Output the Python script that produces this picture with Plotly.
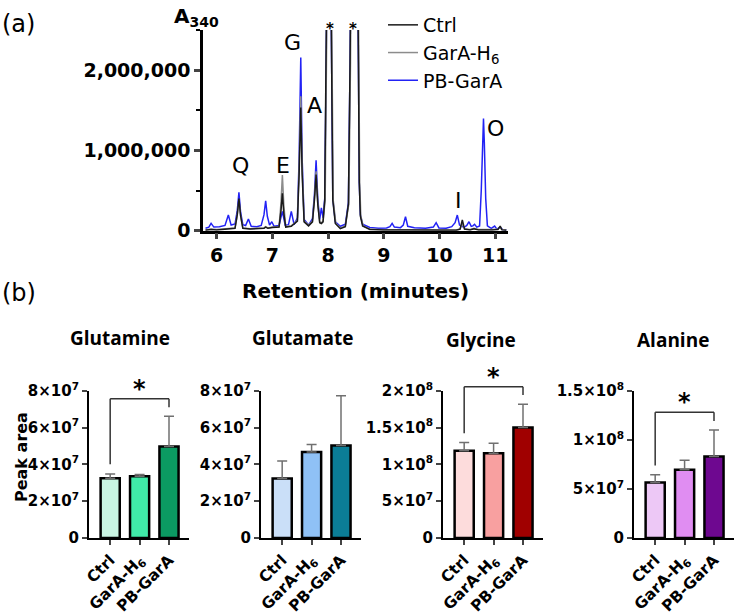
import plotly.graph_objects as go

W, H = 735, 614

# ---------------- (a) chromatogram: (retention min, A340 signal) ----------------
pb_points = [
    (5.80, 30e3), (5.86, 45e3), (5.90, 92e3), (5.95, 45e3), (6.05, 50e3), (6.15, 65e3), (6.21, 195e3),
    (6.26, 70e3), (6.33, 85e3), (6.37, 250e3), (6.40, 478e3), (6.43, 230e3), (6.47, 75e3), (6.52, 65e3),
    (6.57, 145e3), (6.62, 55e3), (6.72, 50e3), (6.80, 65e3), (6.85, 200e3), (6.88, 373e3), (6.91, 180e3),
    (6.95, 70e3), (6.99, 112e3), (7.03, 55e3), (7.12, 65e3), (7.18, 241e3), (7.23, 70e3), (7.29, 75e3),
    (7.34, 241e3), (7.39, 75e3), (7.45, 160e3), (7.48, 900e3), (7.51, 2157e3), (7.535, 900e3), (7.57, 140e3),
    (7.65, 70e3), (7.72, 150e3), (7.755, 450e3), (7.785, 879e3), (7.815, 400e3), (7.85, 140e3), (7.88, 286e3),
    (7.91, 160e3), (7.94, 400e3), (7.965, 2.0e6), (8.015, 6.0e6), (8.065, 2.0e6), (8.085, 400e3), (8.13, 110e3),
    (8.22, 55e3), (8.31, 80e3), (8.365, 350e3), (8.395, 2.1e6), (8.47, 9.0e6), (8.545, 2.1e6), (8.56, 600e3),
    (8.58, 200e3), (8.62, 80e3), (8.75, 40e3), (8.90, 32e3), (9.05, 35e3), (9.11, 50e3), (9.15, 92e3),
    (9.19, 45e3), (9.30, 38e3), (9.35, 70e3), (9.39, 174e3), (9.43, 55e3), (9.55, 38e3), (9.75, 32e3),
    (9.89, 45e3), (9.94, 100e3), (9.99, 35e3), (10.12, 32e3), (10.22, 50e3), (10.28, 100e3), (10.32, 195e3),
    (10.36, 70e3), (10.44, 40e3), (10.49, 65e3), (10.53, 112e3), (10.57, 55e3), (10.60, 60e3), (10.63, 80e3),
    (10.67, 45e3), (10.72, 60e3), (10.75, 500e3), (10.775, 1100e3), (10.79, 1398e3), (10.805, 1100e3),
    (10.83, 400e3), (10.86, 60e3), (10.93, 30e3), (10.99, 58e3), (11.03, 20e3), (11.09, 45e3), (11.13, 15e3),
    (11.20, 10e3),
]
ctrl_points = [
    (5.80, 5e3), (5.90, 15e3), (6.00, 10e3), (6.20, 20e3), (6.33, 30e3), (6.37, 200e3), (6.40, 400e3),
    (6.43, 190e3), (6.47, 30e3), (6.60, 20e3), (6.85, 30e3), (6.88, 45e3), (6.92, 30e3), (7.00, 40e3),
    (7.12, 45e3), (7.155, 250e3), (7.18, 465e3), (7.205, 220e3), (7.24, 45e3), (7.34, 55e3), (7.45, 120e3),
    (7.48, 700e3), (7.51, 1535e3), (7.535, 700e3), (7.57, 110e3), (7.65, 60e3), (7.72, 110e3), (7.755, 380e3),
    (7.785, 700e3), (7.815, 330e3), (7.85, 100e3), (7.88, 90e3), (7.91, 110e3), (7.94, 380e3), (7.965, 2.0e6),
    (8.015, 6.0e6), (8.065, 2.0e6), (8.085, 380e3), (8.13, 90e3), (8.22, 25e3), (8.31, 50e3), (8.365, 330e3),
    (8.395, 2.1e6), (8.47, 9.0e6), (8.545, 2.1e6), (8.56, 600e3), (8.58, 180e3), (8.62, 60e3), (8.75, 15e3),
    (9.00, 8e3), (9.40, 8e3), (9.80, 5e3), (10.30, 5e3), (10.37, 20e3), (10.41, 133e3), (10.45, 20e3),
    (10.55, 10e3), (10.62, 25e3), (10.70, 10e3), (10.95, 10e3), (11.05, 15e3), (11.09, 58e3), (11.12, 10e3),
    (11.20, 5e3),
]
gara_points = [
    (5.80, 10e3), (5.90, 20e3), (6.00, 15e3), (6.20, 25e3), (6.33, 35e3), (6.37, 190e3), (6.40, 380e3),
    (6.43, 180e3), (6.47, 35e3), (6.60, 25e3), (6.85, 35e3), (6.88, 50e3), (6.92, 35e3), (7.00, 45e3),
    (7.12, 50e3), (7.155, 350e3), (7.18, 693e3), (7.205, 330e3), (7.24, 50e3), (7.34, 60e3), (7.45, 130e3),
    (7.48, 780e3), (7.51, 1675e3), (7.535, 780e3), (7.57, 120e3), (7.65, 70e3), (7.72, 120e3), (7.755, 400e3),
    (7.785, 740e3), (7.815, 350e3), (7.85, 110e3), (7.88, 100e3), (7.91, 120e3), (7.948, 380e3), (7.973, 2.0e6),
    (8.023, 6.0e6), (8.073, 2.0e6), (8.093, 380e3), (8.14, 90e3), (8.22, 35e3), (8.31, 60e3), (8.373, 330e3),
    (8.403, 2.1e6), (8.478, 9.0e6), (8.553, 2.1e6), (8.568, 600e3), (8.588, 180e3), (8.63, 60e3), (8.75, 20e3),
    (9.00, 12e3), (9.40, 12e3), (9.80, 10e3), (10.30, 10e3), (10.37, 20e3), (10.41, 90e3), (10.45, 20e3),
    (10.55, 15e3), (10.62, 30e3), (10.70, 15e3), (10.95, 15e3), (11.05, 20e3), (11.09, 40e3), (11.12, 15e3),
    (11.20, 10e3),
]
peak_labels = ["Q", "E", "G", "A", "*", "*", "I", "O"]
peak_label_t = [6.42, 7.19, 7.37, 7.76, 8.03, 8.45, 10.34, 11.0]
peak_label_v = [817e3, 817e3, 2347e3, 1563e3, 2490e3, 2490e3, 382e3, 1277e3]

# ---------------- (b) peak areas ----------------
groups = ["Ctrl", "GarA-H<sub>6</sub>", "PB-GarA"]
amino_acids = ["Glutamine", "Glutamate", "Glycine", "Alanine"]
gln_mean = [3.25e7, 3.35e7, 4.97e7]
gln_sd = [0.22e7, 0.10e7, 1.64e7]
glu_mean = [3.23e7, 4.67e7, 5.03e7]
glu_sd = [0.95e7, 0.41e7, 2.70e7]
gly_mean = [1.183e8, 1.150e8, 1.499e8]
gly_sd = [0.112e8, 0.137e8, 0.317e8]
ala_mean = [5.65e7, 6.94e7, 8.29e7]
ala_sd = [0.78e7, 0.99e7, 2.71e7]

gln_colors = ["#c9f5e3", "#40eaa8", "#0b9a62"]
glu_colors = ["#cadff8", "#8fc1f6", "#0b7d96"]
gly_colors = ["#fddcdc", "#f8a0a0", "#a00000"]
ala_colors = ["#edc8f6", "#e08df2", "#6e0890"]

y_ranges = [[0, 8e7], [0, 8e7], [0, 2e8], [0, 1.5e8]]
y_tickvals = [[0, 2e7, 4e7, 6e7, 8e7], [0, 2e7, 4e7, 6e7, 8e7],
              [0, 5e7, 1e8, 1.5e8, 2e8], [0, 5e7, 1e8, 1.5e8]]
y_ticktext = [["0", "2×10<sup>7</sup>", "4×10<sup>7</sup>", "6×10<sup>7</sup>", "8×10<sup>7</sup>"],
              ["0", "2×10<sup>7</sup>", "4×10<sup>7</sup>", "6×10<sup>7</sup>", "8×10<sup>7</sup>"],
              ["0", "5×10<sup>7</sup>", "1×10<sup>8</sup>", "1.5×10<sup>8</sup>", "2×10<sup>8</sup>"],
              ["0", "5×10<sup>7</sup>", "1×10<sup>8</sup>", "1.5×10<sup>8</sup>"]]

# significance brackets (Ctrl vs PB-GarA): top level, left leg end, right leg end
sig_top = [7.56e7, None, 2.054e8, 1.28e8]
sig_left = [4.0e7, None, 1.423e8, 7.38e7]
sig_right = [7.1e7, None, 1.942e8, 1.192e8]

# ---------------- layout geometry (pixels) ----------------
def px_x(p):
    return p / W

def px_y(p):
    return 1 - p / H

BOLD = "DejaVu Sans"
fig = go.Figure()

series = [
    ("PB-GarA", pb_points, "#2222f5", 3),
    ("GarA-H<sub>6</sub>", gara_points, "#8c8c8c", 2),
    ("Ctrl", ctrl_points, "#1a1a1a", 1),
]
for name, pts, col, rank in series:
    fig.add_trace(go.Scatter(
        x=[p[0] for p in pts], y=[p[1] for p in pts], mode="lines", name=name,
        line=dict(color=col, width=1.5), legendrank=rank, xaxis="x", yaxis="y",
    ))

fig.update_layout(
    xaxis=dict(domain=[px_x(203), px_x(508)], range=[5.755, 11.23], anchor="y", automargin=False,
               tickvals=[6, 7, 8, 9, 10, 11], ticks="outside", ticklen=6, tickwidth=2.5,
               showline=True, linecolor="black", linewidth=2.5, showgrid=False, zeroline=False,
               tickfont=dict(family=BOLD, size=19, color="black", weight="bold")),
    yaxis=dict(domain=[px_y(230.7), px_y(30)], range=[0, 2.5e6 * 1.0005], anchor="x", automargin=False,
               tickvals=[0, 1e6, 2e6], ticktext=["0", "1,000,000", "2,000,000"],
               ticks="outside", ticklen=6, tickwidth=2.5,
               minor=dict(tickvals=[5e5, 1.5e6, 2.5e6], ticks="outside", ticklen=4, tickwidth=2, tickcolor="black"),
               showline=True, linecolor="black", linewidth=2.5, showgrid=False, zeroline=False,
               tickfont=dict(family=BOLD, size=19, color="black", weight="bold")),
)

annotations = []
for lab, t, v in zip(peak_labels, peak_label_t, peak_label_v):
    star = lab == "*"
    annotations.append(dict(
        x=t, y=v, xref="x", yref="y", text=lab, showarrow=False, yshift=2 if star else 0,
        font=dict(family=BOLD if star else "DejaVu Sans", size=15 if star else 22, color="black",
                  weight="bold" if star else "normal"),
        xanchor="center", yanchor="middle"))

annotations += [
    dict(x=px_x(196), y=px_y(17), xref="paper", yref="paper", showarrow=False, xanchor="center", yanchor="middle",
         text="A<sub>340</sub>", font=dict(family=BOLD, size=20, color="black", weight="bold")),
    dict(x=px_x(355), y=px_y(291), xref="paper", yref="paper", showarrow=False, xanchor="center", yanchor="middle",
         text="Retention (minutes)", font=dict(family=BOLD, size=20, color="black", weight="bold")),
    dict(x=0, y=px_y(24), xref="paper", yref="paper", showarrow=False, xanchor="left", yanchor="middle",
         text="(a)", font=dict(family="DejaVu Sans", size=24, color="black")),
    dict(x=0, y=px_y(293), xref="paper", yref="paper", showarrow=False, xanchor="left", yanchor="middle",
         text="(b)", font=dict(family="DejaVu Sans", size=24, color="black")),
    dict(x=px_x(21), y=px_y(457), xref="paper", yref="paper", showarrow=False, textangle=-90,
         xanchor="center", yanchor="middle",
         text="Peak area", font=dict(family=BOLD, size=16, color="black", weight="bold")),
]

panel_x = [(89, 189), (261, 361), (443, 543), (634, 734)]
title_pos = [(120, 338), (302, 338), (481, 340), (673, 340)]
means = [gln_mean, glu_mean, gly_mean, ala_mean]
sds = [gln_sd, glu_sd, gly_sd, ala_sd]
colors = [gln_colors, glu_colors, gly_colors, ala_colors]
x_range = [-0.72, 2.68]
shapes = []
for i in range(4):
    xa = "x%d" % (i + 2)
    ya = "y%d" % (i + 2)
    fig.add_trace(go.Bar(
        x=[0, 1, 2], y=means[i], width=0.65, xaxis=xa, yaxis=ya, showlegend=False,
        marker=dict(color=colors[i], line=dict(color="black", width=2.5)),
        error_y=dict(type="data", array=sds[i], arrayminus=[0, 0, 0], symmetric=False,
                     color="#707070", thickness=1.5, width=5),
    ))
    fig.layout["xaxis%d" % (i + 2)] = dict(
        domain=[px_x(panel_x[i][0]), px_x(panel_x[i][1])], range=x_range, anchor=ya, automargin=False,
        tickvals=[0, 1, 2], ticktext=groups, tickangle=-45, ticks="outside", ticklen=5, tickwidth=2,
        showline=True, linecolor="black", linewidth=2, showgrid=False, zeroline=False,
        tickfont=dict(family=BOLD, size=15.5, color="black", weight="bold"))
    fig.layout["yaxis%d" % (i + 2)] = dict(
        domain=[px_y(538), px_y(390.7)], range=y_ranges[i], anchor=xa, automargin=False,
        tickvals=y_tickvals[i], ticktext=y_ticktext[i], ticks="outside", ticklen=5, tickwidth=2,
        showline=True, linecolor="black", linewidth=2, showgrid=False, zeroline=False,
        tickfont=dict(family=BOLD, size=15, color="black", weight="bold"))
    annotations.append(dict(
        x=px_x(title_pos[i][0]), y=px_y(title_pos[i][1]), xref="paper", yref="paper", showarrow=False,
        xanchor="center", yanchor="middle",
        text=amino_acids[i], font=dict(family="Open Sans", size=19, color="black", weight="bold")))
    if sig_top[i] is not None:
        r0, r1 = y_ranges[i]
        fy = lambda v: (v - r0) / (r1 - r0)
        fx = lambda v: (v - x_range[0]) / (x_range[1] - x_range[0])
        segs = [((0, sig_left[i]), (0, sig_top[i])),
                ((0, sig_top[i]), (2, sig_top[i])),
                ((2, sig_top[i]), (2, sig_right[i]))]
        for (a, b), (c, d) in segs:
            shapes.append(dict(type="line", xref=xa + " domain", yref=ya + " domain",
                               x0=fx(a), y0=fy(b), x1=fx(c), y1=fy(d),
                               line=dict(color="#333333", width=1.5)))
        annotations.append(dict(x=fx(1), y=fy(sig_top[i]), xref=xa + " domain", yref=ya + " domain",
                                text="*", showarrow=False, xanchor="center", yanchor="bottom", yshift=-6,
                                font=dict(family=BOLD, size=24, color="black", weight="bold")))

fig.update_layout(
    width=W, height=H, margin=dict(l=0, r=0, t=0, b=0),
    paper_bgcolor="white", plot_bgcolor="white",
    annotations=annotations, shapes=shapes,
    showlegend=True,
    legend=dict(x=px_x(383), y=px_y(6), xanchor="left", yanchor="top", itemwidth=30,
                bgcolor="rgba(0,0,0,0)", tracegroupgap=0,
                font=dict(family="DejaVu Sans", size=19, color="black")),
)

fig.write_html("out.html")
